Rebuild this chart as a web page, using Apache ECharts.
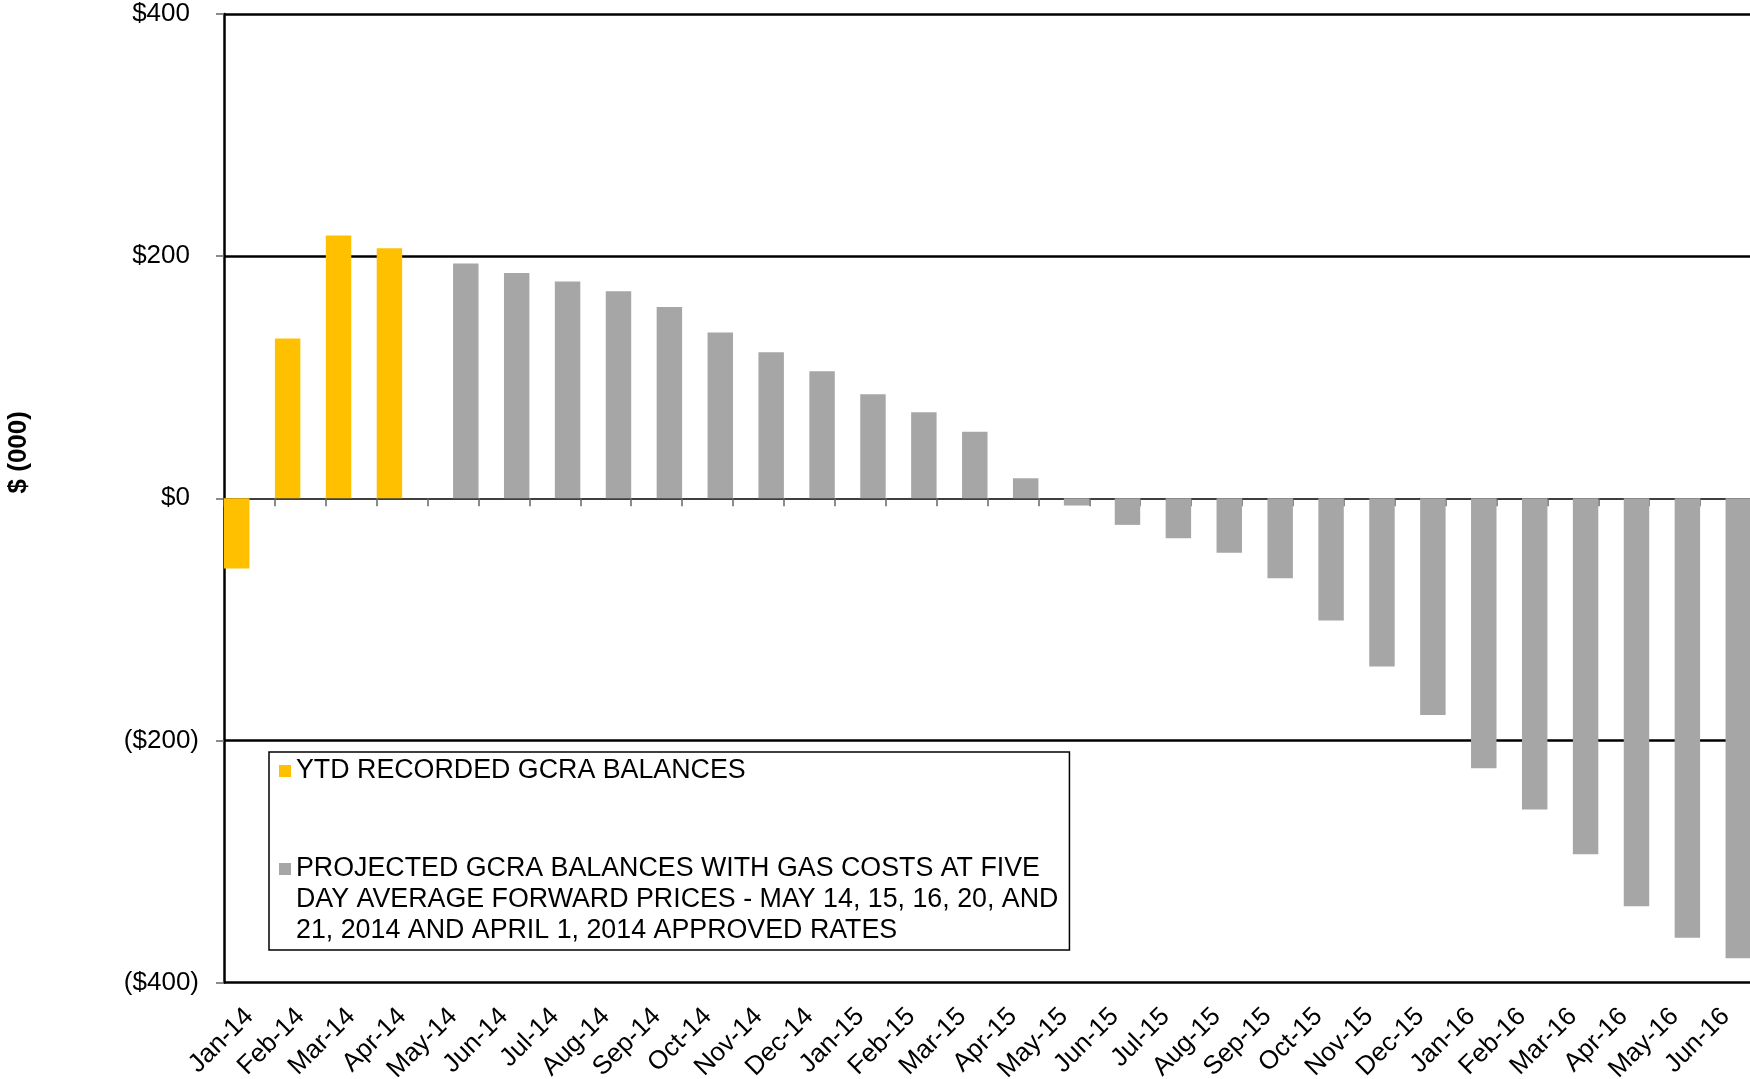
<!DOCTYPE html>
<html>
<head>
<meta charset="utf-8">
<script src="https://cdn.jsdelivr.net/npm/echarts@6/dist/echarts.min.js"></script>
<style>
  html, body { margin: 0; padding: 0; background: #ffffff; }
  #chart { width: 1750px; height: 1079px; }
</style>
</head>
<body>
<div id="chart"></div>
<script>
// Months on the category axis
const months = [
  'Jan-14', 'Feb-14', 'Mar-14', 'Apr-14', 'May-14', 'Jun-14', 'Jul-14', 'Aug-14',
  'Sep-14', 'Oct-14', 'Nov-14', 'Dec-14', 'Jan-15', 'Feb-15', 'Mar-15', 'Apr-15',
  'May-15', 'Jun-15', 'Jul-15', 'Aug-15', 'Sep-15', 'Oct-15', 'Nov-15', 'Dec-15',
  'Jan-16', 'Feb-16', 'Mar-16', 'Apr-16', 'May-16', 'Jun-16'
];

// Series names and the wrapped legend text for the long one
const ytdName = 'YTD RECORDED GCRA BALANCES';
const projName = 'PROJECTED GCRA BALANCES WITH GAS COSTS AT FIVE DAY AVERAGE FORWARD PRICES - MAY 14, 15, 16, 20, AND 21, 2014 AND APRIL 1, 2014 APPROVED RATES';
const projLegendLines = [
  'PROJECTED GCRA BALANCES WITH GAS COSTS AT FIVE',
  'DAY AVERAGE FORWARD PRICES - MAY 14, 15, 16, 20, AND',
  '21, 2014 AND APRIL 1, 2014 APPROVED RATES'
];

// Balances, $ thousands
const ytdValues = [
  -58, 132, 217, 206.5, null, null, null, null, null, null, null, null, null, null, null,
  null, null, null, null, null, null, null, null, null, null, null, null, null, null, null
];
const projectedValues = [
  null, null, null, null, 194, 186, 179, 171, 158, 137, 120.5, 105, 86, 71, 55,
  16.5, -6, -22, -33, -45, -66, -101, -139, -179, -223, -257, -294, -337, -363, -380
];

// Value axis ticks
const yTicks = [-400, -200, 0, 200, 400];

const FONT = '"Liberation Sans", Arial, Helvetica, sans-serif';
const GOLD = '#FFC000';
const GREY = '#A6A6A6';

// Accounting style: negatives in parentheses, positives padded to line up
function money(v) {
  return v < 0 ? '($' + (-v) + ')' : '{p|$' + v + '}';
}

// Legend markers: a small square; the second sits beside the first of three text lines
const squareIcon = 'path://M0,0H12V12H0Z';
const topSquareIcon = 'path://M0,0M12,93M0,9.5H12V21.5H0Z';

const chart = echarts.init(document.getElementById('chart'), null, { renderer: 'canvas' });

chart.setOption({
  animation: false,
  backgroundColor: '#ffffff',
  textStyle: { fontFamily: FONT },
  grid: {
    left: 224, top: 14, width: 1527, height: 968.5,
    containLabel: false,
    outerBoundsMode: 'none'
  },
  legend: {
    orient: 'vertical',
    left: 269,
    top: 752,
    padding: [3.5, 11, 3.5, 10],
    borderColor: '#000000',
    borderWidth: 1.5,
    itemWidth: 12,
    itemHeight: 93,
    itemGap: 67,
    symbolKeepAspect: true,
    selectedMode: false,
    textStyle: { fontFamily: FONT, fontSize: 26.8, color: '#000000', lineHeight: 31 },
    formatter: function (name) {
      return name === projName ? projLegendLines.join('\n') : name;
    },
    data: [
      { name: ytdName, icon: squareIcon },
      { name: projName, icon: topSquareIcon }
    ]
  },
  xAxis: [
    {
      // axis drawn through zero with the month ticks
      type: 'category',
      data: months,
      position: 'bottom',
      boundaryGap: true,
      axisLine: { onZero: true, lineStyle: { color: '#000000', width: 1.5 } },
      axisTick: { show: true, interval: 0, length: 8, lineStyle: { color: '#666666', width: 1.5 } },
      axisLabel: { show: false },
      splitLine: { show: false }
    },
    {
      // month labels along the bottom edge
      type: 'category',
      data: months,
      position: 'bottom',
      boundaryGap: true,
      axisLine: { show: false, onZero: false },
      axisTick: { show: false },
      axisLabel: {
        interval: 0,
        rotate: 45,
        margin: 30,
        fontFamily: FONT,
        fontSize: 26,
        color: '#000000'
      },
      splitLine: { show: false }
    }
  ],
  yAxis: {
    type: 'value',
    min: yTicks[0],
    max: yTicks[yTicks.length - 1],
    interval: yTicks[1] - yTicks[0],
    name: '$ (000)',
    nameLocation: 'middle',
    nameRotate: 90,
    nameGap: 192,
    nameTextStyle: {
      fontFamily: FONT,
      fontSize: 26,
      fontWeight: 'bold',
      color: '#000000',
      padding: [0, 0, 0, 92]
    },
    axisLine: { show: true, lineStyle: { color: '#000000', width: 2.5 } },
    axisTick: { show: true, inside: false, length: 8, lineStyle: { color: '#666666', width: 1.5 } },
    axisLabel: {
      margin: 25,
      fontFamily: FONT,
      fontSize: 26,
      color: '#000000',
      formatter: money,
      rich: {
        p: { fontFamily: FONT, fontSize: 26, color: '#000000', padding: [0, 9, 0, 0] }
      }
    },
    splitLine: {
      show: true,
      showMinLine: true,
      showMaxLine: true,
      lineStyle: {
        color: ['#000000', '#000000', 'rgba(0,0,0,0)', '#000000', '#000000'],
        width: 2.5
      }
    }
  },
  series: [
    {
      name: ytdName,
      type: 'bar',
      xAxisIndex: 0,
      data: ytdValues,
      barGap: '0%',
      barCategoryGap: '0%',
      itemStyle: { color: GOLD }
    },
    {
      name: projName,
      type: 'bar',
      xAxisIndex: 0,
      data: projectedValues,
      barGap: '0%',
      barCategoryGap: '0%',
      itemStyle: { color: GREY }
    }
  ]
});
</script>
</body>
</html>
